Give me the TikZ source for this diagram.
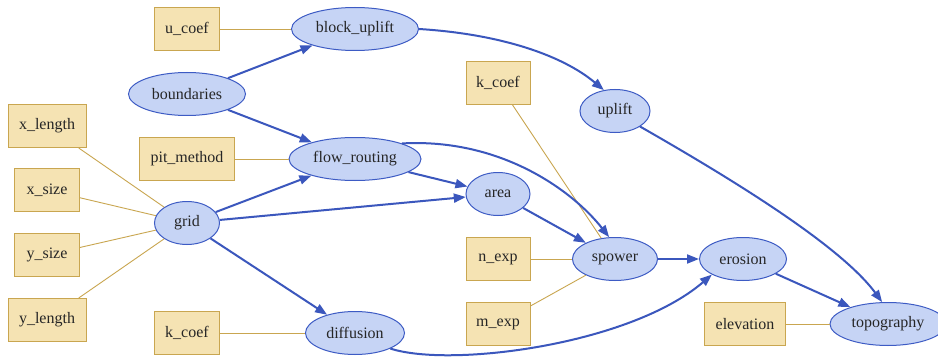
\documentclass[tikz,border=0pt]{standalone}
\usepackage{fontspec}
\setmainfont{Liberation Serif}
\usetikzlibrary{shapes.geometric,arrows.meta}
\definecolor{efill}{HTML}{C6D4F5}
\definecolor{edraw}{HTML}{3D5BC4}
\definecolor{bfill}{HTML}{F5E3B3}
\definecolor{bdraw}{HTML}{C9A650}
\definecolor{arr}{HTML}{3B57BD}
\definecolor{tanl}{HTML}{C9A650}
\begin{document}
\begin{tikzpicture}[x=1pt,y=-1pt,
 proc/.style={ellipse, draw=edraw, fill=efill, line width=1pt, minimum height=43pt, inner sep=0pt, font=\fontsize{16}{18}\selectfont, text=black!85},
 var/.style={rectangle, draw=bdraw, fill=bfill, line width=1pt, minimum height=43pt, inner sep=0pt, font=\fontsize{16}{18}\selectfont, text=black!85},
 flow/.style={draw=arr, line width=2pt, -{Triangle[length=12pt,width=9pt]}},
 link/.style={draw=tanl, line width=0.9pt}]
\useasboundingbox (0,0) rectangle (938,361);
\fill[white] (0,0) rectangle (938,361);
% processes
\node[proc, minimum width=127pt] (bu) at (355,29) {block\_uplift};
\node[proc, minimum width=117pt] (bd) at (187,94) {boundaries};
\node[proc, minimum width=132pt] (fr) at (355,159) {flow\_routing};
\node[proc, minimum width=70pt] (up) at (615,111) {uplift};
\node[proc, minimum width=65pt] (gr) at (187,223) {grid};
\node[proc, minimum width=64pt] (ar) at (498,194) {area};
\node[proc, minimum width=85pt] (sp) at (615,259) {spower};
\node[proc, minimum width=87pt] (er) at (743,259) {erosion};
\node[proc, minimum width=99pt] (df) at (355,333) {diffusion};
\node[proc, minimum width=116pt] (tp) at (888,324) {topography};
% variables
\node[var, minimum width=65pt] (uc) at (187,29) {u\_coef};
\node[var, minimum width=78pt] (xl) at (47,126) {x\_length};
\node[var, minimum width=95pt] (pm) at (187,159) {pit\_method};
\node[var, minimum width=65pt] (xs) at (47,190) {x\_size};
\node[var, minimum width=65pt] (ys) at (47,255) {y\_size};
\node[var, minimum width=78pt] (yl) at (47,320) {y\_length};
\node[var, minimum width=64pt] (kc) at (498,83) {k\_coef};
\node[var, minimum width=65pt] (kd) at (187,333) {k\_coef};
\node[var, minimum width=64pt] (ne) at (498,259) {n\_exp};
\node[var, minimum width=64pt] (me) at (498,324) {m\_exp};
\node[var, minimum width=81pt] (el) at (745,324) {elevation};
% links
\draw[link] (uc) -- (bu);
\draw[link] (pm) -- (fr);
\draw[link] (xl) -- (gr);
\draw[link] (xs) -- (gr);
\draw[link] (ys) -- (gr);
\draw[link] (yl) -- (gr);
\draw[link] (kc) -- (sp);
\draw[link] (ne) -- (sp);
\draw[link] (me) -- (sp);
\draw[link] (kd) -- (df);
\draw[link] (el) -- (tp);
% flows
\draw[flow] (bd) -- (bu);
\draw[flow] (bd) -- (fr);
\draw[flow] (bu.east) .. controls (500,34) and (562,55) .. (up.118);
\draw[flow] (fr.north east) .. controls (500,138) and (572,190) .. (sp.105);
\draw[flow] (fr) -- (ar);
\draw[flow] (gr) -- (fr);
\draw[flow] (gr) -- (ar);
\draw[flow] (gr) -- (df);
\draw[flow] (ar) -- (sp);
\draw[flow] (sp) -- (er);
\draw[flow] (df.south east) .. controls (450,368) and (630,345) .. (er.south west);
\draw[flow] (up.south east) .. controls (730,178) and (840,245) .. (tp.105);
\draw[flow] (er) -- (tp);
\end{tikzpicture}
\end{document}
